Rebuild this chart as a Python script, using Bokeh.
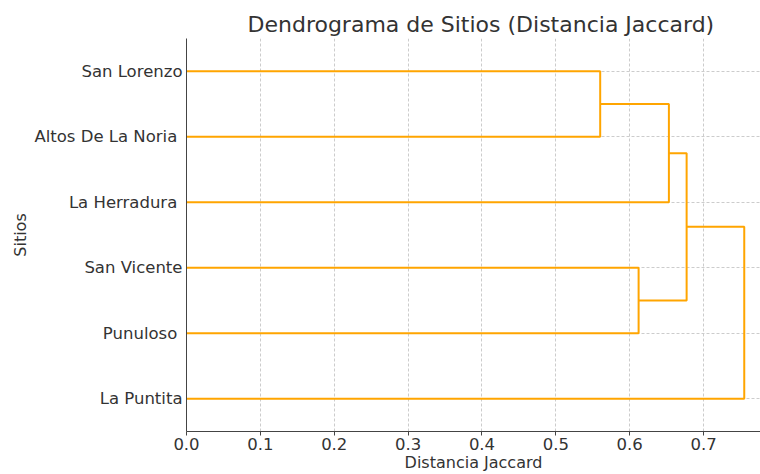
from bokeh.plotting import figure
from bokeh.models import FixedTicker, Range1d
from bokeh.embed import file_html
from bokeh.resources import INLINE

# Leaves, bottom to top (order drawn by the dendrogram)
leaf_labels = ["La Puntita", "Punuloso\u00a0", "San Vicente", "La Herradura\u00a0",
               "Altos De La Noria\u00a0", "San Lorenzo"]
# Linkage: leaves are 0..5 (order above); each merge creates cluster 6, 7, ...
merge_a = [5, 2, 6, 8, 9]
merge_b = [4, 1, 3, 7, 0]
merge_dist = [0.560, 0.612, 0.653, 0.677, 0.755]
x_ticks = [0.0, 0.1, 0.2, 0.3, 0.4, 0.5, 0.6, 0.7]

# Build dendrogram link coordinates from the linkage
leaf_pos = [5 + 10 * i for i in range(len(leaf_labels))]
node_y = {i: leaf_pos[i] for i in range(len(leaf_labels))}
node_x = {i: 0.0 for i in range(len(leaf_labels))}
xs, ys = [], []
for k, (a, b, h) in enumerate(zip(merge_a, merge_b, merge_dist)):
    xs.append([node_x[a], h, h, node_x[b]])
    ys.append([node_y[a], node_y[a], node_y[b], node_y[b]])
    new_id = len(leaf_labels) + k
    node_x[new_id] = h
    node_y[new_id] = (node_y[a] + node_y[b]) / 2

FONT = "DejaVu Sans"
TXT = "#333333"

p = figure(width=760, height=474, output_backend="svg", toolbar_location=None,
           x_range=Range1d(0, 0.777), y_range=Range1d(0, 60),
           min_border_left=186, min_border_right=0, min_border_top=38,
           min_border_bottom=33)
p.outline_line_color = None
p.background_fill_color = "white"
p.border_fill_color = "white"

p.multi_line(xs, ys, line_color="#FFA500", line_width=2)

p.title.text = "Dendrograma de Sitios (Distancia Jaccard)"
p.title.align = "left"
p.title.offset = 61
p.title.text_font = FONT
p.title.text_font_size = "22px"
p.title.text_font_style = "normal"
p.title.text_color = TXT
p.title.standoff = 4

xa = p.xaxis[0]
xa.ticker = FixedTicker(ticks=x_ticks)
xa.major_label_overrides = {t: f"{t:.1f}" for t in x_ticks}
xa.axis_label = "Distancia Jaccard"
xa.axis_label_text_font = FONT
xa.axis_label_text_font_size = "16px"
xa.axis_label_text_font_style = "normal"
xa.axis_label_text_color = TXT
xa.axis_label_standoff = 0
xa.major_label_text_font = FONT
xa.major_label_text_font_size = "16.5px"
xa.major_label_text_color = TXT
xa.major_label_standoff = 2
xa.major_tick_out = 4
xa.major_tick_in = 0
xa.minor_tick_out = 0
xa.minor_tick_in = 0
xa.axis_line_color = "#444444"
xa.major_tick_line_color = "#444444"

ya = p.yaxis[0]
ya.ticker = FixedTicker(ticks=leaf_pos)
ya.major_label_overrides = {pos: lab for pos, lab in zip(leaf_pos, leaf_labels)}
ya.axis_label = "Sitios"
ya.axis_label_text_font = FONT
ya.axis_label_text_font_size = "16px"
ya.axis_label_text_font_style = "normal"
ya.axis_label_text_color = TXT
ya.axis_label_standoff = 1
ya.major_label_text_font = FONT
ya.major_label_text_font_size = "16.5px"
ya.major_label_text_color = TXT
ya.major_label_standoff = 4
ya.major_tick_out = 0
ya.major_tick_in = 0
ya.minor_tick_out = 0
ya.minor_tick_in = 0
ya.axis_line_color = "#444444"

for g in (p.xgrid[0], p.ygrid[0]):
    g.grid_line_color = "#cccccc"
    g.grid_line_dash = "3 2"
    g.grid_line_width = 1
p.xgrid[0].ticker = FixedTicker(ticks=x_ticks)
p.ygrid[0].ticker = FixedTicker(ticks=leaf_pos)

open("out.html", "w").write(file_html(p, INLINE))
